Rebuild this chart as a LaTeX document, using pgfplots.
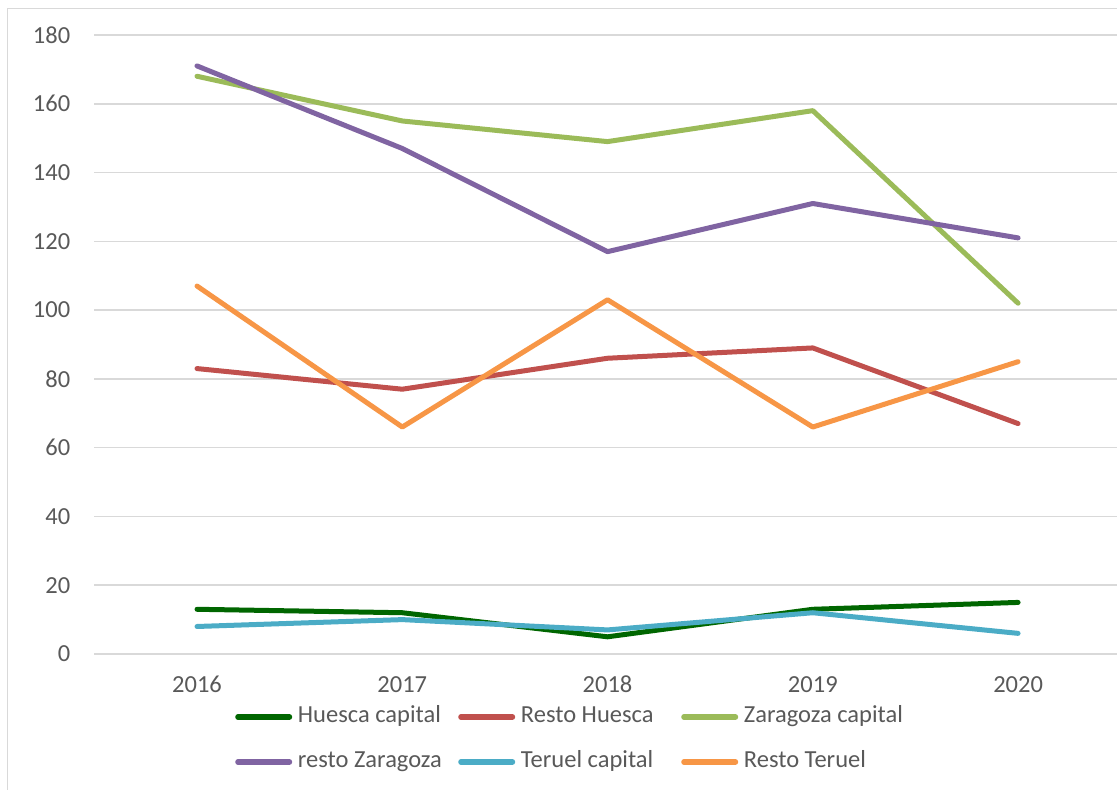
\documentclass[border=0pt]{standalone}
\usepackage{fontspec}
\setmainfont{Carlito}
\usepackage{pgfplots}
\pgfplotsset{compat=1.18}
\definecolor{txt}{HTML}{595959}
\definecolor{gridc}{HTML}{D9D9D9}
\definecolor{cHC}{RGB}{0,102,0}
\definecolor{cRH}{HTML}{C0504D}
\definecolor{cZC}{HTML}{9BBB59}
\definecolor{cRZ}{HTML}{8064A2}
\definecolor{cTC}{HTML}{4BACC6}
\definecolor{cRT}{HTML}{F79646}
\newcommand{\fs}{\fontsize{24.5}{28}\selectfont}
\begin{document}
\begin{tikzpicture}[x=1pt,y=1pt]
\useasboundingbox (0,0) rectangle (1117,790);
\draw[gridc, line width=1.5pt] (7.5,-20) -- (7.5,781.5) -- (1140,781.5);
\begin{axis}[
  at={(94.4pt,136pt)}, anchor=south west,
  scale only axis, width=1022.6pt, height=619pt,
  xmin=-0.5, xmax=4.482, ymin=0, ymax=180,
  xtick={0,1,2,3,4}, xticklabels={2016,2017,2018,2019,2020},
  ytick={0,20,...,180},
  axis line style={draw=none},
  major tick length=0pt,
  ymajorgrids, grid style={gridc, line width=1.5pt},
  /pgf/number format/assume math mode=true,
  tick label style={font=\fs, text=txt, inner sep=0pt},
  yticklabel style={anchor=east, xshift=-24pt},
  xticklabel style={anchor=north, yshift=-22pt},
  legend columns=3,
  legend style={draw=none, fill=none, inner sep=0pt, outer sep=0pt,
    at={(rel axis cs:0.1355,-0.1381)}, anchor=west,
    font=\fs, text=txt, column sep=0pt, row sep=24pt,
    nodes={inner sep=0pt, text height=16pt, text depth=5pt}},
  legend image code/.code={\draw[#1, line width=5.5pt, line cap=round] (2.5pt,0) -- (54pt,0); \path (0,0) (60pt,0);},
  every axis plot/.append style={line width=5pt, line cap=round, line join=round, mark=none},
]
\addplot[cHC] coordinates {(0,13) (1,12) (2,5) (3,13) (4,15)};
\addlegendentry{\makebox[158pt][l]{Huesca capital}}
\addplot[cRH] coordinates {(0,83) (1,77) (2,86) (3,89) (4,67)};
\addlegendentry{\makebox[158pt][l]{Resto Huesca}}
\addplot[cZC] coordinates {(0,168) (1,155) (2,149) (3,158) (4,102)};
\addlegendentry{\makebox[158pt][l]{Zaragoza capital}}
\addplot[cRZ] coordinates {(0,171) (1,147) (2,117) (3,131) (4,121)};
\addlegendentry{\makebox[158pt][l]{resto Zaragoza}}
\addplot[cTC] coordinates {(0,8) (1,10) (2,7) (3,12) (4,6)};
\addlegendentry{\makebox[158pt][l]{Teruel capital}}
\addplot[cRT] coordinates {(0,107) (1,66) (2,103) (3,66) (4,85)};
\addlegendentry{\makebox[158pt][l]{Resto Teruel}}
\end{axis}
\end{tikzpicture}
\end{document}
